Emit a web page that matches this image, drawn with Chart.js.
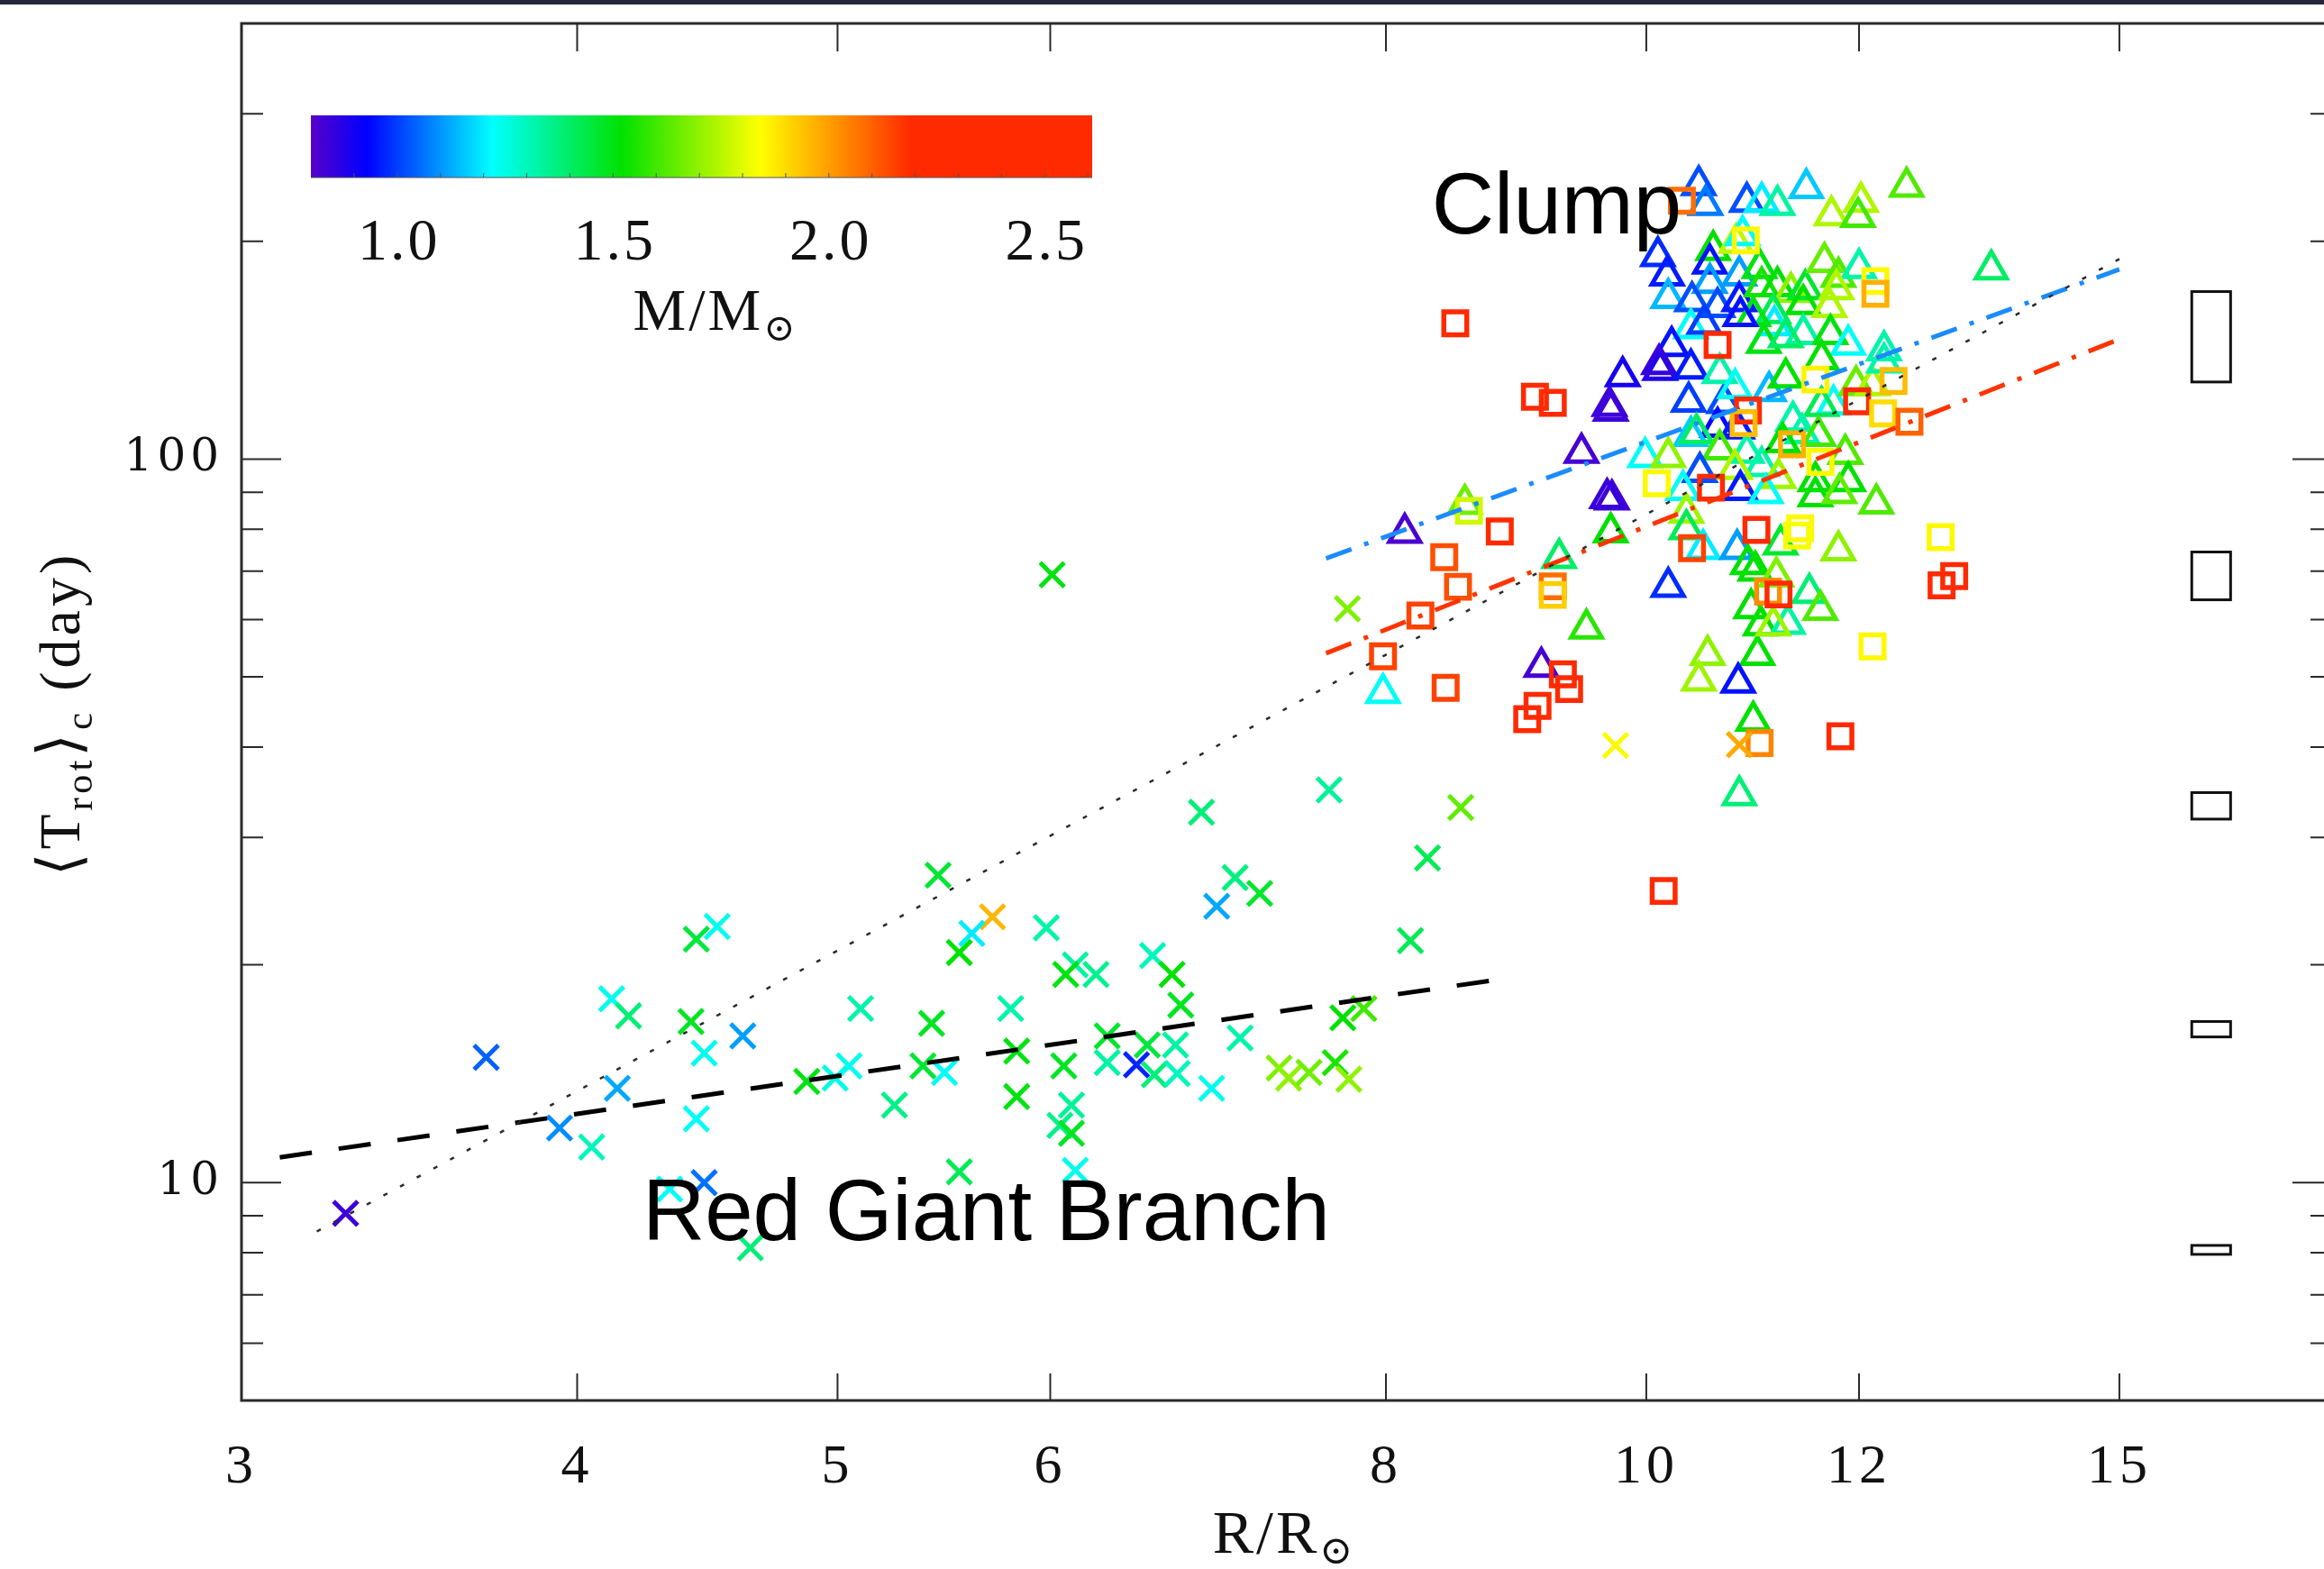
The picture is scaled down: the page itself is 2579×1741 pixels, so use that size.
<!DOCTYPE html>
<html>
<head>
<meta charset="utf-8">
<title>Mean core rotation period vs radius</title>
<script src="https://cdn.jsdelivr.net/npm/chart.js@4.4.1/dist/chart.umd.min.js"></script>
<style>
  html, body { margin: 0; padding: 0; background: #fff; overflow: hidden; }
  #wrap { position: absolute; left: 0; top: 0; width: 2600px; height: 1741px; }
  #trotChart { width: 2600px; height: 1741px; }
  #topbar { position: absolute; left: 0; top: 0; width: 100%; height: 5px; background: #262638; }
</style>
</head>
<body>
<div id="wrap"><canvas id="trotChart" width="2600" height="1741"></canvas></div>
<div id="topbar"></div>
<script>
// Red giant branch stars (crosses): radius R/Rsun, <Trot>_c in days, mass M/Msun
const rgbRadius = [3.28, 3.70, 3.94, 4.05, 4.12, 4.18, 4.14, 4.43, 4.51, 4.41, 4.46, 4.61, 4.43, 4.46, 4.33, 4.64, 4.87, 4.99, 5.05, 5.10, 5.25,
  6.01, 7.74, 6.83, 7.62, 8.53, 8.29, 8.17, 5.45, 5.71, 5.61, 5.55, 5.98, 6.92, 7.03, 7.18, 6.13, 6.08, 6.24, 6.55, 6.66, 6.71,
  5.42, 5.80, 5.38, 5.48, 5.83, 6.07, 6.30, 6.30, 6.46, 6.52, 6.68, 6.56, 6.69, 6.89, 7.06, 5.83, 6.11, 6.05, 6.11, 6.13, 5.55,
  7.30, 7.36, 7.49, 7.66, 7.75, 7.71, 7.85, 9.74, 10.83];
const rgbPeriod = [9.07, 14.9, 11.9, 11.2, 17.95, 17.0, 13.5, 21.7, 22.6, 16.7, 15.1, 15.95, 12.25, 10.0, 9.8, 8.13, 13.8, 13.95, 14.5, 17.4, 12.8,
  69.2, 62.1, 32.5, 34.9, 33.0, 28.1, 21.6, 26.6, 23.3, 22.1, 20.8, 22.5, 24.1, 26.4, 25.1, 20.0, 19.4, 19.4, 20.6, 19.4, 17.6,
  16.6, 17.4, 14.5, 14.2, 15.2, 14.5, 15.95, 14.65, 14.55, 15.5, 15.5, 14.1, 14.15, 13.5, 15.85, 13.15, 12.8, 12.0, 11.7, 10.4, 10.35,
  14.4, 13.95, 14.2, 14.65, 13.9, 16.9, 17.4, 40.2, 40.3];
const rgbMass = [0.84, 1.04, 1.09, 1.30, 1.24, 1.38, 1.12, 1.45, 1.24, 1.48, 1.24, 1.11, 1.23, 1.06, 1.23, 1.38, 1.50, 1.25, 1.24, 1.32, 1.36,
  1.50, 1.68, 1.38, 1.34, 1.64, 1.42, 1.42, 1.46, 1.96, 1.20, 1.52, 1.32, 1.12, 1.37, 1.47, 1.33, 1.50, 1.35, 1.30, 1.52, 1.48,
  1.48, 1.32, 1.46, 1.23, 1.50, 1.48, 1.47, 1.33, 0.97, 1.45, 1.33, 1.38, 1.30, 1.24, 1.32, 1.50, 1.34, 1.36, 1.48, 1.24, 1.42,
  1.68, 1.70, 1.66, 1.55, 1.70, 1.52, 1.60, 1.85, 1.98];

// Clump stars drawn as triangles
const clumpTriRadius = [10.46, 10.52, 10.90, 11.04, 11.19, 11.47, 11.72, 12.02, 11.99, 12.50, 10.10, 10.18, 10.19, 10.59, 10.56, 10.80,
  10.86, 10.56, 10.83, 10.40, 10.63, 10.83, 11.02, 11.04, 11.19, 11.32, 11.46, 11.44, 11.65, 11.79, 12.00, 11.77, 11.70, 11.15,
  11.16, 10.96, 10.39, 10.51, 10.84, 11.44, 11.71, 11.89, 10.22, 11.06, 11.27, 12.26, 9.80, 10.12, 10.11, 10.39, 9.69, 9.70,
  10.37, 10.69, 10.65, 10.79, 11.11, 11.27, 11.62, 11.74, 11.62, 11.97, 12.14, 12.26, 10.63, 10.81, 10.39, 10.44, 9.99, 10.19,
  10.65, 10.90, 11.04, 10.47, 10.79, 11.20, 11.34, 11.43, 11.59, 11.24, 11.86, 11.89, 11.56, 11.56, 11.80, 12.18, 10.32, 10.84,
  11.08, 10.35, 9.71, 10.35, 13.44, 9.46, 8.13, 8.56, 9.67, 9.28, 9.70, 9.50, 10.19, 10.50, 10.81, 10.91, 10.98, 11.22, 11.18,
  11.50, 11.61, 10.94, 11.03, 11.29, 11.79, 10.54, 11.00, 10.46, 10.82, 10.96, 10.83, 9.14, 7.98, 11.15];
const clumpTriPeriod = [239, 224.5, 226.7, 226.7, 224.5, 236.8, 217.1, 226.7, 216.1, 237.9, 190.7, 179.3, 166.9, 194.5, 186.3, 199.0,
  203.9, 175.1, 179.3, 165.3, 162.2, 165.3, 183.6, 173.3, 173.3, 170.2, 171.7, 163.7, 187.2, 178.5, 183.6, 171.7, 162.2, 159.1,
  153.1, 157.6, 151.6, 153.8, 157.6, 148.8, 148.8, 143.9, 143.3, 144.7, 147.3, 141.3, 130.2, 132.8, 135.3, 133.4, 118.4, 116.6,
  120.0, 119.5, 131.5, 125.3, 124.1, 129.6, 137.3, 118.9, 118.4, 126.5, 126.5, 136.0, 110.8, 110.2, 107.6, 108.6, 100.6, 100.6,
  103.1, 102.0, 97.8, 96.0, 96.9, 94.1, 112.9, 108.6, 107.6, 105.5, 101.6, 93.2, 93.2, 88.8, 89.7, 86.8, 90.6, 90.6,
  89.7, 84.3, 87.9, 80.0, 182.8, 102.0, 79.1, 86.7, 88.3, 73.0, 79.2, 58.3, 66.6, 75.1, 75.1, 71.6, 70.1, 76.2, 68.8,
  65.3, 61.9, 62.2, 58.9, 59.2, 74.8, 53.6, 53.6, 49.4, 49.1, 43.5, 34.3, 51.6, 47.5, 58.9];
const clumpTriMass = [1.02, 1.07, 1.02, 1.20, 1.33, 1.16, 1.74, 1.74, 1.60, 1.62, 0.98, 0.96, 1.14, 1.52, 0.95, 1.76,
  1.23, 1.11, 1.11, 1.02, 1.02, 0.96, 1.50, 1.55, 1.52, 1.70, 1.47, 1.52, 1.65, 1.62, 1.32, 1.74, 1.74, 1.42,
  1.20, 1.50, 1.23, 1.00, 0.95, 1.33, 1.50, 1.23, 0.95, 1.50, 1.40, 1.32, 0.90, 0.88, 0.85, 0.96, 0.84, 0.84,
  1.00, 1.02, 1.32, 1.23, 1.14, 1.52, 1.52, 1.23, 1.42, 1.65, 1.74, 1.32, 0.94, 0.96, 1.16, 1.40, 1.23, 1.70,
  1.60, 1.32, 1.32, 1.02, 1.74, 1.72, 1.32, 1.32, 1.60, 1.52, 1.62, 1.52, 1.52, 1.52, 1.64, 1.62, 1.23, 0.96,
  1.23, 1.72, 0.83, 1.42, 1.40, 0.83, 0.82, 1.66, 0.85, 1.40, 1.52, 1.57, 0.98, 1.20, 1.11, 1.52, 1.52, 1.46, 1.68,
  1.38, 1.62, 1.52, 1.52, 1.33, 1.70, 1.70, 1.52, 1.72, 0.95, 1.52, 1.38, 0.83, 1.23, 1.72];

// Clump stars drawn as squares
const clumpSqRadius = [10.31, 8.49, 10.89, 12.17, 12.17, 10.63, 9.09, 9.23, 12.36, 11.98, 10.91, 10.87, 12.25, 12.53, 11.33,
  11.61, 10.09, 10.57, 8.59, 8.82, 10.99, 11.41, 12.87, 8.41, 11.38, 8.51, 9.23, 9.23, 10.40, 11.10, 11.20, 8.24, 12.88,
  13.02, 12.14, 7.98, 8.42, 9.31, 9.36, 9.11, 9.03, 11.02, 11.81, 10.15, 11.56];
const clumpSqPeriod = [227.5, 154, 200.6, 176.2, 169.2, 143.8, 121.9, 119.6, 128.2, 120.2, 116.7, 112.1, 115.6, 112.6, 104.8,
  99.1, 92.6, 91.3, 84.8, 79.4, 79.8, 80.2, 78.0, 73.2, 78.4, 66.6, 66.7, 64.9, 75.3, 65.6, 65.0, 60.8, 66.9,
  68.9, 55.1, 53.4, 48.3, 50.4, 48.1, 45.6, 43.7, 40.5, 41.4, 25.3, 128.8];
const clumpSqMass = [2.08, 2.30, 1.85, 1.85, 1.97, 2.30, 2.30, 2.30, 1.95, 2.30, 2.30, 1.95, 1.90, 2.10, 1.97,
  1.85, 1.85, 2.30, 1.78, 2.30, 2.30, 1.85, 1.85, 2.13, 1.83, 2.13, 2.08, 1.92, 2.15, 2.03, 2.20, 2.15, 2.30,
  2.30, 1.85, 2.15, 2.15, 2.30, 2.30, 2.30, 2.30, 2.04, 2.30, 2.30, 1.86];

// fitted relations (end points)
const rgbFitR = [3.10, 8.82];
const rgbFitP = [10.84, 19.1];
const scalingR = [3.20, 15.0];
const scalingP = [8.56, 189];
const blueFitR = [7.60, 15.0];
const blueFitP = [72.9, 182.9];
const redFitR = [7.60, 14.96];
const redFitP = [53.9, 145.9];

// typical error bars on the right
const errBoxR = [15.96, 16.50];
const errBoxLow = [127.8, 63.9, 31.8, 15.9, 7.96];
const errBoxHigh = [170.4, 74.4, 34.6, 16.7, 8.19];

// axes
const xTicks = [3, 4, 5, 6, 8, 10, 12, 15];
const yTicks = [10, 100];
const yMinorTicks = [6, 7, 8, 9, 20, 30, 40, 50, 60, 70, 80, 90, 200, 300];
const massTicks = [1.0, 1.5, 2.0, 2.5];
const massRange = [0.80, 2.61];

// region labels
const regionLabels = ['Clump', 'Red Giant Branch'];
const regionLabelR = [8.32, 4.23];
const regionLabelP = [205, 8.32];

// colour table (mass -> rgb), like the colour bar
const cmap = [
  [0.80, [88, 0, 200]],
  [0.93, [0, 0, 255]],
  [1.22, [0, 255, 255]],
  [1.52, [0, 225, 0]],
  [1.84, [255, 255, 0]],
  [1.98, [255, 170, 0]],
  [2.19, [255, 42, 0]],
  [2.61, [255, 42, 0]]
];

function massColor(m) {
  if (m <= cmap[0][0]) return 'rgb(' + cmap[0][1].join(',') + ')';
  for (let i = 1; i < cmap.length; i++) {
    if (m <= cmap[i][0]) {
      const t = (m - cmap[i - 1][0]) / (cmap[i][0] - cmap[i - 1][0]);
      const a = cmap[i - 1][1], b = cmap[i][1];
      const c = a.map((v, k) => Math.round(v + (b[k] - v) * t));
      return 'rgb(' + c.join(',') + ')';
    }
  }
  return 'rgb(' + cmap[cmap.length - 1][1].join(',') + ')';
}

function pts(rs, ps) {
  return rs.map((r, i) => ({ x: r, y: ps[i] }));
}

const SERIF = "'Liberation Serif', 'DejaVu Serif', 'DejaVu Sans', serif";

// draw a run of text pieces (for sub-scripts), centred on cx
function drawParts(ctx, parts, cx, baseY) {
  let total = 0;
  parts.forEach(p => {
    ctx.font = p.font;
    p.w = ctx.measureText(p.t).width;
    total += p.w;
  });
  let x0 = cx - total / 2;
  ctx.textAlign = 'left';
  ctx.textBaseline = 'alphabetic';
  parts.forEach(p => {
    ctx.font = p.font;
    ctx.fillText(p.t, x0, baseY + (p.dy || 0));
    x0 += p.w;
  });
}

const framePlugin = {
  id: 'frame',
  beforeDraw(chart) {
    chart.ctx.letterSpacing = '5px';
  },
  beforeDatasetsDraw(chart) {
    const { ctx, chartArea: a, scales: { x, y } } = chart;
    ctx.save();
    ctx.strokeStyle = '#2a2a2a';
    ctx.lineWidth = 3;
    ctx.strokeRect(a.left, a.top, a.right - a.left, a.bottom - a.top);
    ctx.lineWidth = 2;
    ctx.beginPath();
    xTicks.forEach(v => {
      const px = x.getPixelForValue(v);
      ctx.moveTo(px, a.bottom); ctx.lineTo(px, a.bottom - 30);
      ctx.moveTo(px, a.top); ctx.lineTo(px, a.top + 31);
    });
    yTicks.forEach(v => {
      const py = y.getPixelForValue(v);
      ctx.moveTo(a.left, py); ctx.lineTo(a.left + 44, py);
      ctx.moveTo(a.right, py); ctx.lineTo(a.right - 44, py);
    });
    yMinorTicks.forEach(v => {
      const py = y.getPixelForValue(v);
      ctx.moveTo(a.left, py); ctx.lineTo(a.left + 24, py);
      ctx.moveTo(a.right, py); ctx.lineTo(a.right - 24, py);
    });
    ctx.stroke();
    ctx.restore();
  },
  afterDatasetsDraw(chart) {
    const { ctx, scales: { x, y } } = chart;
    ctx.save();
    ctx.strokeStyle = '#111';
    ctx.lineWidth = 3;
    const x1 = x.getPixelForValue(errBoxR[0]);
    const x2 = x.getPixelForValue(errBoxR[1]);
    errBoxLow.forEach((lo, i) => {
      const y1 = y.getPixelForValue(errBoxHigh[i]);
      const y2 = y.getPixelForValue(lo);
      ctx.strokeRect(x1, y1, x2 - x1, y2 - y1);
    });
    ctx.restore();
  },
  afterDraw(chart) {
    const { ctx, chartArea: a, scales: { x, y } } = chart;
    ctx.save();

    // colour bar
    const cbL = 345, cbR = 1212, cbT = 128, cbB = 197;
    const grad = ctx.createLinearGradient(cbL, 0, cbR, 0);
    cmap.forEach(s => {
      grad.addColorStop((s[0] - massRange[0]) / (massRange[1] - massRange[0]), 'rgb(' + s[1].join(',') + ')');
    });
    ctx.fillStyle = grad;
    ctx.fillRect(cbL, cbT, cbR - cbL, cbB - cbT);
    ctx.strokeStyle = '#555';
    ctx.lineWidth = 1;
    ctx.beginPath();
    for (let m = 0.9; m < massRange[1]; m += 0.1) {
      const px = cbL + (m - massRange[0]) / (massRange[1] - massRange[0]) * (cbR - cbL);
      ctx.moveTo(px, cbB); ctx.lineTo(px, cbB - 5);
    }
    ctx.moveTo(cbL, cbB); ctx.lineTo(cbR, cbB);
    ctx.stroke();

    ctx.fillStyle = '#111';
    ctx.letterSpacing = '3px';
    ctx.font = '66px ' + SERIF;
    ctx.textAlign = 'center';
    ctx.textBaseline = 'alphabetic';
    massTicks.forEach(m => {
      const px = cbL + (m - massRange[0]) / (massRange[1] - massRange[0]) * (cbR - cbL);
      ctx.fillText(m.toFixed(1), px + 2, 288);
    });
    drawParts(ctx, [
      { t: 'M/M', font: '66px ' + SERIF },
      { t: '\u2299', font: '42px ' + SERIF, dy: 12 }
    ], 794, 366);

    // axis titles
    drawParts(ctx, [
      { t: 'R/R', font: '68px ' + SERIF },
      { t: '\u2299', font: '44px ' + SERIF, dy: 12 }
    ], 1425, 1723);

    ctx.save();
    ctx.translate(88, 792);
    ctx.rotate(-Math.PI / 2);
    ctx.letterSpacing = '4px';
    drawParts(ctx, [
      { t: '\u27E8', font: '66px ' + SERIF },
      { t: 'T', font: '64px ' + SERIF },
      { t: 'rot', font: '43px ' + SERIF, dy: 14 },
      { t: '\u27E9', font: '66px ' + SERIF },
      { t: 'c', font: '43px ' + SERIF, dy: 14 },
      { t: ' (day)', font: '64px ' + SERIF }
    ], 0, 0);
    ctx.restore();

    // region labels
    ctx.letterSpacing = '0px';
    ctx.fillStyle = '#000';
    ctx.font = "96px 'Liberation Sans', Arial, sans-serif";
    ctx.textAlign = 'left';
    ctx.textBaseline = 'alphabetic';
    regionLabels.forEach((txt, i) => {
      ctx.fillText(txt, x.getPixelForValue(regionLabelR[i]), y.getPixelForValue(regionLabelP[i]));
    });
    ctx.restore();
  }
};

const lineStyle = (color, width, dash) => ({
  type: 'line',
  borderColor: color,
  borderWidth: width,
  borderDash: dash,
  pointRadius: 0,
  fill: false,
  tension: 0,
  order: 0
});

new Chart(document.getElementById('trotChart'), {
  type: 'scatter',
  data: {
    datasets: [
      Object.assign({ label: 'R^2 scaling', data: pts(scalingR, scalingP) }, lineStyle('#2a2a2a', 2.5, [5, 16])),
      Object.assign({ label: 'RGB fit', data: pts(rgbFitR, rgbFitP) }, lineStyle('#000', 5, [36, 30])),
      Object.assign({ label: 'clump fit (low mass)', data: pts(blueFitR, blueFitP) }, lineStyle('#1a8cff', 5, [30, 15, 5, 15])),
      Object.assign({ label: 'clump fit (high mass)', data: pts(redFitR, redFitP) }, lineStyle('#ff3300', 5, [30, 15, 5, 15])),
      {
        label: 'RGB',
        data: pts(rgbRadius, rgbPeriod),
        pointStyle: 'crossRot',
        pointRadius: 19,
        pointBorderWidth: 5,
        pointBorderColor: rgbMass.map(massColor),
        pointBackgroundColor: 'rgba(0,0,0,0)',
        order: 1
      },
      {
        label: 'Clump (squares)',
        data: pts(clumpSqRadius, clumpSqPeriod),
        pointStyle: 'rect',
        pointRadius: 18,
        pointBorderWidth: 5.5,
        pointBorderColor: clumpSqMass.map(massColor),
        pointBackgroundColor: 'rgba(0,0,0,0)',
        order: 2
      },
      {
        label: 'Clump (triangles)',
        data: pts(clumpTriRadius, clumpTriPeriod),
        pointStyle: 'triangle',
        pointRadius: 19.5,
        pointBorderWidth: 5,
        pointBorderColor: clumpTriMass.map(massColor),
        pointBackgroundColor: 'rgba(0,0,0,0)',
        order: 3
      }
    ]
  },
  options: {
    responsive: false,
    devicePixelRatio: 1,
    animation: false,
    events: [],
    layout: { autoPadding: false, padding: { top: 26, right: 12, left: 0, bottom: 0 } },
    plugins: {
      legend: { display: false },
      tooltip: { enabled: false }
    },
    scales: {
      x: {
        type: 'logarithmic',
        min: 3,
        max: 18,
        grid: { display: false, drawTicks: false },
        border: { display: false },
        afterBuildTicks: axis => { axis.ticks = xTicks.map(v => ({ value: v })); },
        afterFit: axis => {
          axis.height = 187;
          axis.paddingLeft = 0;
          axis.paddingRight = 0;
        },
        ticks: {
          callback: v => String(v),
          font: { family: SERIF, size: 62 },
          color: '#111',
          padding: 38,
          maxRotation: 0,
          autoSkip: false
        }
      },
      y: {
        type: 'logarithmic',
        min: 5,
        max: 400,
        grid: { display: false, drawTicks: false },
        border: { display: false },
        afterBuildTicks: axis => { axis.ticks = yTicks.map(v => ({ value: v })); },
        afterFit: axis => {
          axis.width = 268;
          axis.paddingTop = 0;
          axis.paddingBottom = 0;
        },
        ticks: {
          callback: v => String(v),
          font: { family: "'DejaVu Serif', 'Liberation Serif', serif", size: 50 },
          color: '#111',
          padding: 20,
          autoSkip: false
        }
      }
    }
  },
  plugins: [framePlugin]
});
</script>
</body>
</html>
